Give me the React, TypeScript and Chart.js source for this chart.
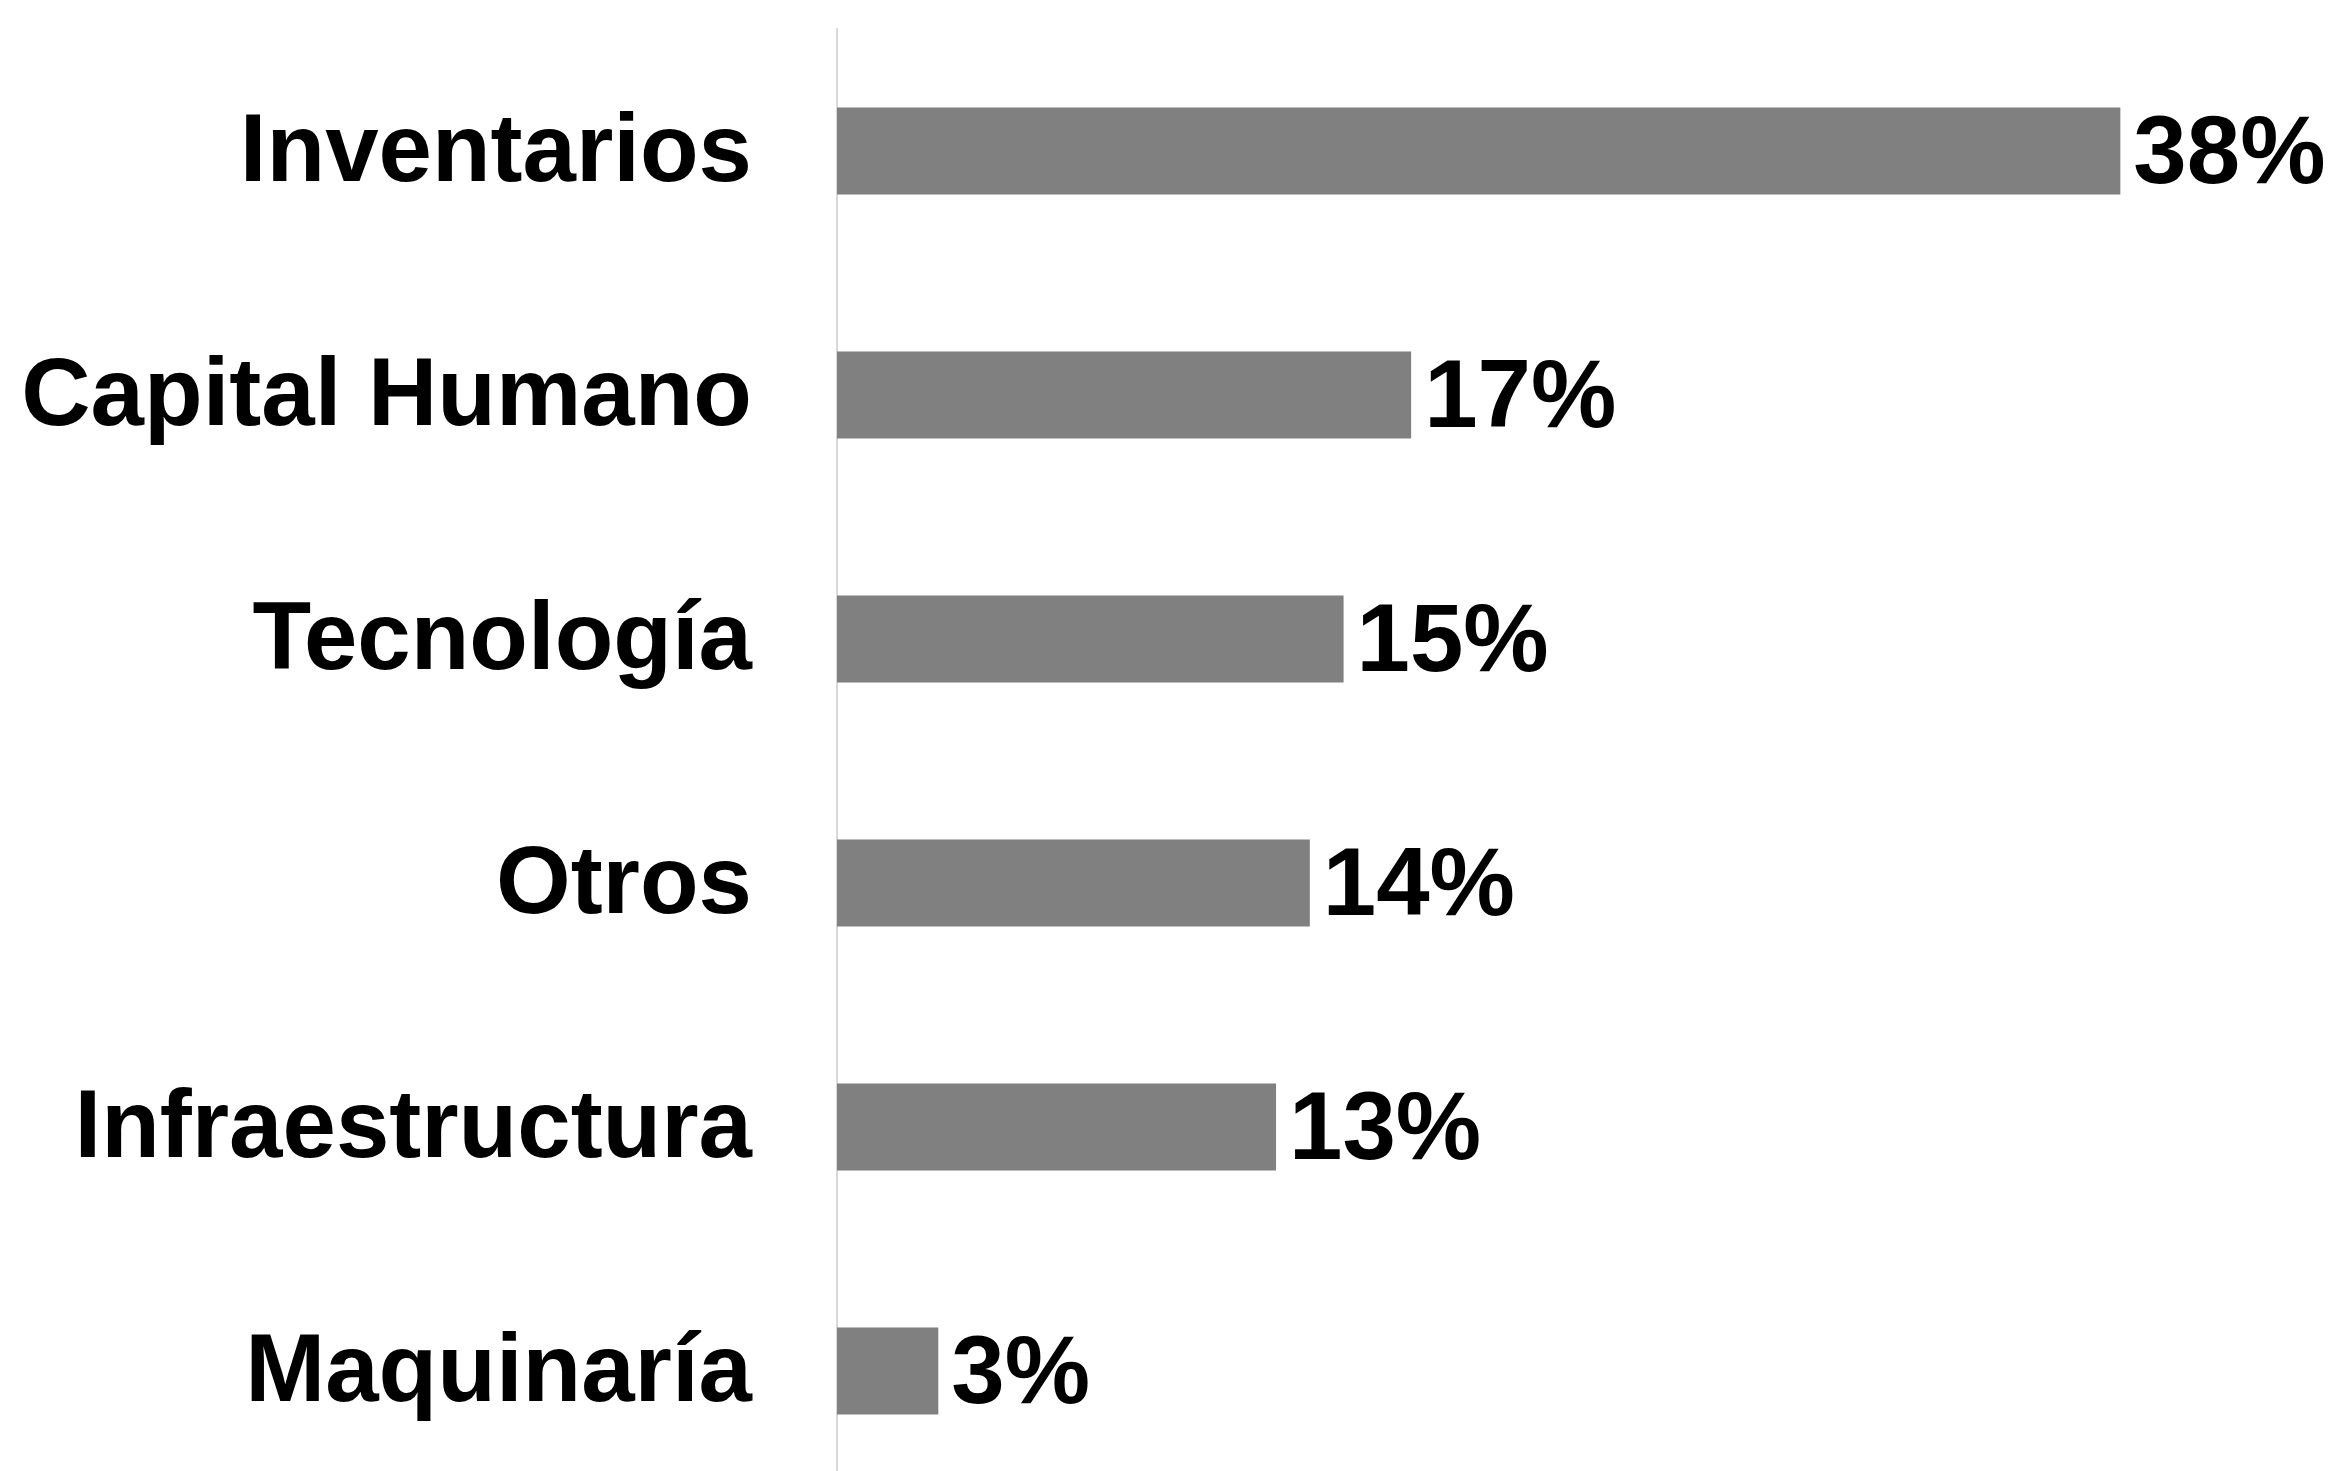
import React, { useEffect, useRef } from "react";
import { Chart, registerables } from "chart.js";

Chart.register(...registerables);

const categories = [
  "Inventarios",
  "Capital Humano",
  "Tecnología",
  "Otros",
  "Infraestructura",
  "Maquinaría",
];
const values = [38, 17, 15, 14, 13, 3];
const xMax = 44;

const FONT = '"Liberation Sans", Arial, Helvetica, sans-serif';

const valueLabels = {
  id: "valueLabels",
  afterDatasetsDraw(chart: any) {
    const ctx = chart.ctx;
    const meta = chart.getDatasetMeta(0);
    ctx.save();
    ctx.font = `bold 96px ${FONT}`;
    ctx.fillStyle = "#000000";
    ctx.textAlign = "left";
    ctx.textBaseline = "middle";
    meta.data.forEach((el: any, i: number) => {
      ctx.fillText(`${values[i]}%`, el.x + 13, el.y + 6);
    });
    ctx.restore();
  },
};

export default function App() {
  const ref = useRef<HTMLCanvasElement>(null);
  useEffect(() => {
    if (!ref.current) return;
    const chart = new Chart(ref.current, {
      type: "bar",
      data: {
        labels: categories,
        datasets: [
          {
            data: values,
            backgroundColor: "#808080",
            borderWidth: 0,
            categoryPercentage: 1,
            barPercentage: 0.357,
          },
        ],
      },
      options: {
        indexAxis: "y",
        animation: false,
        responsive: false,
        devicePixelRatio: 1,
        layout: { padding: { left: 0, right: 11, top: 29, bottom: 0 } },
        plugins: {
          legend: { display: false },
          tooltip: { enabled: false },
        },
        scales: {
          x: {
            display: false,
            min: 0,
            max: xMax,
          },
          y: {
            grid: { display: false, drawTicks: false },
            border: { display: true, color: "#d9d9d9", width: 2 },
            ticks: {
              color: "#000000",
              padding: 85,
              labelOffset: 4,
              font: { family: FONT, size: 96, weight: "bold" },
            },
            afterFit(scale: any) {
              scale.width = 837;
              scale.paddingTop = 0;
              scale.paddingBottom = 0;
            },
          },
        },
      },
      plugins: [valueLabels],
    });
    return () => chart.destroy();
  }, []);
  return (
    <div
      style={{
        position: "fixed",
        top: 0,
        left: 0,
        width: 2334,
        height: 1471,
        overflow: "hidden",
        background: "#ffffff",
      }}
    >
      <canvas
        ref={ref}
        width={2334}
        height={1493}
        style={{ display: "block", width: 2334, height: 1493 }}
      />
    </div>
  );
}
